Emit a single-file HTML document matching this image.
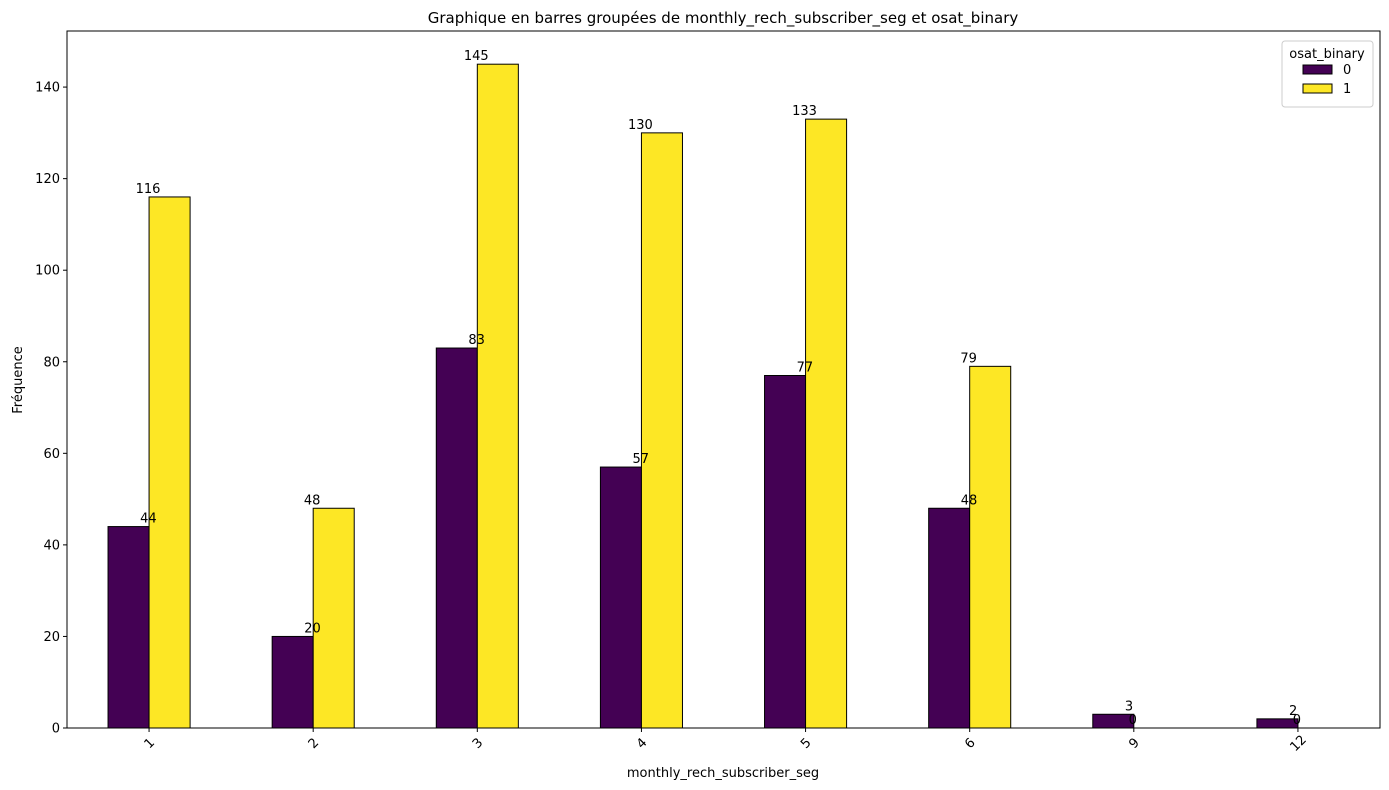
<!DOCTYPE html><html><head><meta charset="utf-8"><style>body{margin:0;background:#fff}svg{display:block;font-family:"DejaVu Sans","Liberation Sans",sans-serif}</style></head><body>
<svg id="c" width="1389" height="790"></svg>
<script>
const categories=["1","2","3","4","5","6","9","12"];
const series0=[44,20,83,57,77,48,3,2];
const series1=[116,48,145,130,133,79,0,0];
const yTicks=[0,20,40,60,80,100,120,140];
const seriesNames=["0","1"];
const colors=["#440154","#fde725"];
const L=67,R=1380,T=31,B=728,ymax=152.25;
const svg=document.getElementById('c');const NS="http://www.w3.org/2000/svg";
function mk(t,a,txt){const e=document.createElementNS(NS,t);for(const k in a)e.setAttribute(k,a[k]);if(txt!==undefined)e.textContent=txt;svg.appendChild(e);return e;}
const step=(R-L)/categories.length;
const x=i=>L+step*(i+0.5);
const y=v=>B-(B-T)*v/ymax;
const bw=step*0.25;
const all=[series0,series1];
all.forEach((s,si)=>{s.forEach((v,i)=>{
const bx=x(i)-bw+si*bw;
const r=mk('rect',{x:bx,y:y(v),width:bw,height:B-y(v),fill:colors[si],stroke:'#000','stroke-width':1});


});});
all.forEach((s,si)=>{s.forEach((v,i)=>{
const t=mk('text',{x:x(i)+(si?-1:0)+ (si?0:0),y:y(v)-4,'font-size':13,'text-anchor':si?'middle':'start',dx:si?0:-9},String(v));


});});
const ax=mk('rect',{x:L,y:T,width:R-L,height:B-T,fill:'none',stroke:'#000','stroke-width':1});


yTicks.forEach(v=>{mk('line',{x1:L-4,x2:L,y1:y(v),y2:y(v),stroke:'#000'});
const t=mk('text',{x:L-7,y:y(v)+4.5,'font-size':13,'text-anchor':'end'},String(v));

});
categories.forEach((c,i)=>{mk('line',{x1:x(i),x2:x(i),y1:B,y2:B+4,stroke:'#000'});
const cx=x(i),cy=B+15;
const t=mk('text',{x:cx,y:cy+4.5,'font-size':13,'text-anchor':'middle',transform:`rotate(-45 ${cx} ${cy})`},c);

});
</script>
<svg width="1389" height="790" style="position:absolute;left:0;top:0">
<text x="723" y="23" font-size="15" text-anchor="middle">Graphique en barres groupées de monthly_rech_subscriber_seg et osat_binary</text>
<text x="723" y="777" font-size="13" text-anchor="middle">monthly_rech_subscriber_seg</text>
<text x="22" y="380" font-size="13" text-anchor="middle" transform="rotate(-90 22 380)">Fréquence</text>
<g>
<rect x="1282" y="41" width="91" height="66" rx="3" fill="#fff" stroke="#ccc"/>
<text x="1327" y="58" font-size="13" text-anchor="middle">osat_binary</text>
<rect x="1303" y="65" width="29" height="9" fill="#440154" stroke="#000"/>
<text x="1343" y="74" font-size="13">0</text>
<rect x="1303" y="84" width="29" height="9" fill="#fde725" stroke="#000"/>
<text x="1343" y="93" font-size="13">1</text>
</g></svg>
</body></html>
